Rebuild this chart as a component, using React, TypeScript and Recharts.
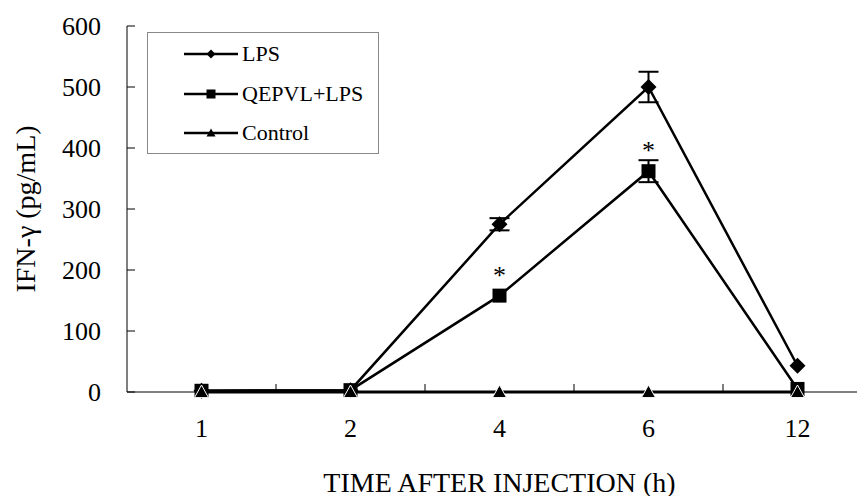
import { ErrorBar, LabelList, Legend, Line, LineChart, XAxis, YAxis } from "recharts";

const TIMES = ["1", "2", "4", "6", "12"];
const LPS = [2, 3, 275, 500, 43];
const LPS_ERR = [0, 0, 10, 25, 0];
const QEPVL = [2, 3, 158, 362, 5];
const QEPVL_ERR = [0, 0, 0, 18, 0];
const CONTROL = [0, 0, 0, 0, 0];
const SIG = ["", "", "*", "*", ""];
const Y_TICKS = [0, 100, 200, 300, 400, 500, 600];

const FONT = "'Liberation Serif', 'Times New Roman', serif";
const W = 880;
const H = 504;
const AXIS_W = 127;
const RIGHT = 8;
const BAND_HALF = (W - AXIS_W - RIGHT) / TIMES.length / 2;

const data = TIMES.map((t, i) => ({
  t,
  lps: LPS[i],
  lpsErr: LPS_ERR[i],
  qepvl: QEPVL[i],
  qepvlErr: QEPVL_ERR[i],
  control: CONTROL[i],
  sig: SIG[i],
}));

const Diamond = ({ cx, cy, r = 8 }: any) =>
  cx == null ? null : <polygon points={`${cx},${cy - r} ${cx + r},${cy} ${cx},${cy + r} ${cx - r},${cy}`} fill="#000" />;
const Square = ({ cx, cy, s = 7 }: any) =>
  cx == null ? null : <rect x={cx - s} y={cy - s} width={s * 2} height={s * 2} fill="#000" />;
const Triangle = ({ cx, cy, s = 7, white = true }: any) =>
  cx == null ? null : (
    <polygon
      points={`${cx},${cy - s} ${cx + s},${cy + s * 0.8} ${cx - s},${cy + s * 0.8}`}
      fill="#000"
      stroke={white ? "#fff" : "none"}
      strokeWidth={1}
    />
  );

function YTick({ x, y, payload }: any) {
  return (
    <g>
      <line x1={x} x2={x + 8} y1={y} y2={y} stroke="#000" strokeWidth={1} />
      <text x={x - 26} y={y} dy={9} textAnchor="end" fontFamily={FONT} fontSize={26} fill="#000">
        {payload.value}
      </text>
    </g>
  );
}

function XTick({ x, y, payload }: any) {
  return (
    <g>
      <line x1={x + BAND_HALF} x2={x + BAND_HALF} y1={y} y2={y - 8} stroke="#000" strokeWidth={1} />
      <text x={x} y={y + 45} textAnchor="middle" fontFamily={FONT} fontSize={26} fill="#000">
        {payload.value}
      </text>
    </g>
  );
}

function YLabel({ viewBox }: any) {
  const cy = viewBox.y + viewBox.height / 2;
  return (
    <text transform={`translate(35, ${cy}) rotate(-90)`} textAnchor="middle" fontFamily={FONT} fontSize={28} fill="#000">
      IFN-γ (pg/mL)
    </text>
  );
}

function Star({ x, y, value }: any) {
  if (!value) return null;
  return (
    <text x={x} y={y - 12} textAnchor="middle" fontFamily={FONT} fontSize={26} fill="#000">
      {value}
    </text>
  );
}

const LEGEND_ROWS = [
  { name: "LPS", mark: (cx: number, cy: number) => <Diamond cx={cx} cy={cy} r={4.5} /> },
  { name: "QEPVL+LPS", mark: (cx: number, cy: number) => <Square cx={cx} cy={cy} s={4.5} /> },
  { name: "Control", mark: (cx: number, cy: number) => <Triangle cx={cx} cy={cy} s={4.5} white={false} /> },
];

function LegendBox() {
  return (
    <div
      style={{
        width: 232,
        height: 122,
        boxSizing: "border-box",
        border: "1px solid #888",
        background: "#fff",
        position: "relative",
        fontFamily: FONT,
        fontSize: 22,
        color: "#000",
      }}
    >
      {LEGEND_ROWS.map((r, i) => (
        <div key={r.name} style={{ position: "absolute", left: 35, top: 21 + i * 39.5 - 13, height: 26, display: "flex", alignItems: "center", whiteSpace: "nowrap" }}>
          <svg width={56} height={16} style={{ display: "block" }}>
            <line x1={1} x2={55} y1={8} y2={8} stroke="#000" strokeWidth={2.5} />
            {r.mark(28, 8)}
          </svg>
          <span style={{ marginLeft: 3, lineHeight: "26px" }}>{r.name}</span>
        </div>
      ))}
    </div>
  );
}

export default function App() {
  return (
    <div style={{ margin: -8, width: 865, height: 504, overflow: "hidden", position: "relative", background: "#fff" }}>
      <LineChart width={W} height={H} data={data} margin={{ top: 26, right: RIGHT, left: 0, bottom: 0 }}>
        <XAxis
          dataKey="t"
          scale="band"
          height={H - 26 - 366}
          axisLine={{ stroke: "#000", strokeWidth: 1 }}
          tickLine={false}
          tickSize={0}
          tickMargin={0}
          tick={<XTick />}
          interval={0}
          label={{ value: "TIME AFTER INJECTION (h)", position: "insideBottom", offset: 12, fill: "#000", fontSize: 28, fontFamily: FONT }}
        />
        <YAxis
          width={AXIS_W}
          domain={[0, 600]}
          ticks={Y_TICKS}
          axisLine={{ stroke: "#000", strokeWidth: 1 }}
          tickLine={false}
          tickSize={0}
          tickMargin={0}
          tick={<YTick />}
          label={<YLabel />}
        />
        <Legend
          layout="vertical"
          align="center"
          verticalAlign="middle"
          content={() => <LegendBox />}
          wrapperStyle={{ left: 147, top: 32, width: 232, height: 122 }}
        />
        <Line dataKey="lps" name="LPS" stroke="#000" strokeWidth={2.5} dot={<Diamond r={8} />} isAnimationActive={false}>
          <ErrorBar dataKey="lpsErr" width={10} stroke="#000" strokeWidth={2} />
        </Line>
        <Line dataKey="qepvl" name="QEPVL+LPS" stroke="#000" strokeWidth={2.5} dot={<Square s={7} />} isAnimationActive={false}>
          <ErrorBar dataKey="qepvlErr" width={10} stroke="#000" strokeWidth={2} />
          <LabelList dataKey="sig" content={<Star />} />
        </Line>
        <Line dataKey="control" name="Control" stroke="#000" strokeWidth={3} dot={<Triangle s={7} />} isAnimationActive={false} />
      </LineChart>
    </div>
  );
}
